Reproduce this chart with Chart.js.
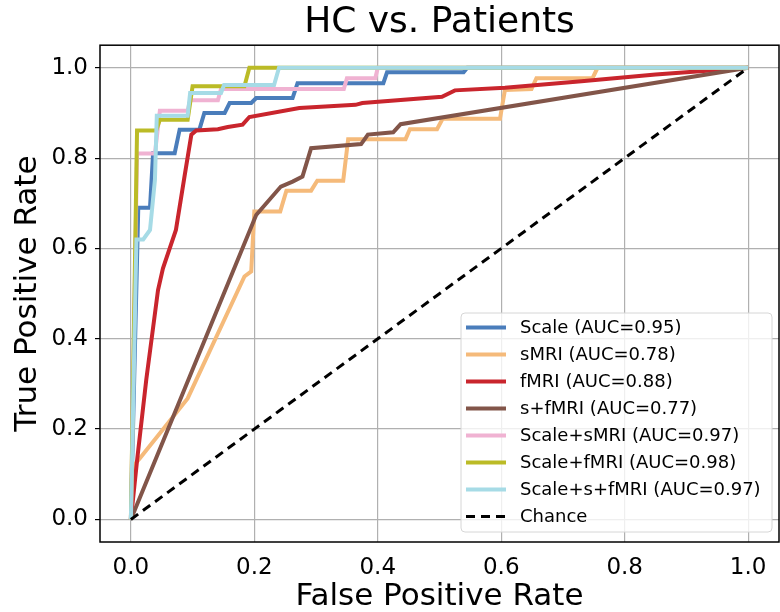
<!DOCTYPE html>
<html>
<head>
<meta charset="utf-8">
<script src="https://cdn.jsdelivr.net/npm/chart.js@4.4.1/dist/chart.umd.min.js"></script>
<style>
html, body { margin: 0; padding: 0; background: #fff; }
#roc { display: block; }
</style>
</head>
<body>
<canvas id="roc" width="780" height="612"></canvas>
<script>
// data ////////////////////////////////////////////////////////////
var tickValues = [0, 0.2, 0.4, 0.6, 0.8, 1.0];

var fprScale = [0, 0.012, 0.031, 0.036, 0.071, 0.079, 0.111, 0.119, 0.152, 0.160, 0.195, 0.203, 0.262, 0.270, 0.409, 0.415, 0.539, 0.545, 1.0];
var tprScale = [0, 0.69, 0.69, 0.811, 0.811, 0.863, 0.863, 0.9, 0.9, 0.922, 0.922, 0.933, 0.933, 0.966, 0.966, 0.99, 0.99, 1.0, 1.0];

var fprSmri = [0, 0.005, 0.015, 0.092, 0.184, 0.195, 0.2, 0.242, 0.252, 0.292, 0.302, 0.344, 0.352, 0.445, 0.452, 0.496, 0.505, 0.598, 0.606, 0.649, 0.657, 0.748, 0.756, 1.0];
var tprSmri = [0, 0.12, 0.136, 0.268, 0.538, 0.549, 0.682, 0.682, 0.728, 0.728, 0.75, 0.75, 0.842, 0.842, 0.864, 0.864, 0.887, 0.887, 0.951, 0.953, 0.977, 0.977, 1.0, 1.0];

var fprFmri = [0, 0.01, 0.025, 0.044, 0.052, 0.073, 0.087, 0.098, 0.106, 0.141, 0.157, 0.181, 0.192, 0.273, 0.364, 0.375, 0.504, 0.525, 0.606, 0.73, 0.85, 1.0];
var tprFmri = [0, 0.13, 0.31, 0.508, 0.556, 0.641, 0.76, 0.852, 0.861, 0.864, 0.869, 0.874, 0.891, 0.911, 0.918, 0.922, 0.936, 0.95, 0.956, 0.97, 0.985, 1.0];

var fprSFmri = [0, 0.203, 0.243, 0.262, 0.278, 0.292, 0.373, 0.384, 0.425, 0.437, 1.0];
var tprSFmri = [0, 0.674, 0.737, 0.748, 0.759, 0.822, 0.831, 0.852, 0.857, 0.875, 1.0];

var fprScaleSmri = [0, 0.01, 0.039, 0.047, 0.092, 0.096, 0.141, 0.146, 0.345, 0.35, 0.396, 0.4, 1.0];
var tprScaleSmri = [0, 0.81, 0.81, 0.905, 0.905, 0.928, 0.928, 0.953, 0.953, 0.977, 0.977, 1.0, 1.0];

var fprScaleFmri = [0, 0.01, 0.041, 0.047, 0.092, 0.1, 0.184, 0.192, 1.0];
var tprScaleFmri = [0, 0.861, 0.861, 0.885, 0.885, 0.959, 0.959, 1.0, 1.0];

var fprScaleSFmri = [0, 0.009, 0.02, 0.031, 0.039, 0.042, 0.092, 0.096, 0.146, 0.151, 0.232, 0.24, 1.0];
var tprScaleSFmri = [0, 0.62, 0.62, 0.641, 0.752, 0.894, 0.894, 0.944, 0.944, 0.962, 0.962, 1.0, 1.0];

var fprChance = [0, 1];
var tprChance = [0, 1];

var seriesNames = ['Scale (AUC=0.95)', 'sMRI (AUC=0.78)', 'fMRI (AUC=0.88)', 's+fMRI (AUC=0.77)',
	'Scale+sMRI (AUC=0.97)', 'Scale+fMRI (AUC=0.98)', 'Scale+s+fMRI (AUC=0.97)', 'Chance'];
var seriesFpr = [fprScale, fprSmri, fprFmri, fprSFmri, fprScaleSmri, fprScaleFmri, fprScaleSFmri, fprChance];
var seriesTpr = [tprScale, tprSmri, tprFmri, tprSFmri, tprScaleSmri, tprScaleFmri, tprScaleSFmri, tprChance];
var seriesColors = ['#4a7dbb', '#f5ba7a', '#c9252d', '#825549', '#f0b2d2', '#bbbb26', '#a6dbe6', '#000000'];
//end data/////////////////////////////////////////////////////////////////////////////////

var fontFamily = 'DejaVu Sans';

function toPoints(xs, ys) {
	var pts = [];
	for (var i = 0; i < xs.length; i++) {
		pts.push({ x: xs[i], y: ys[i] });
	}
	return pts;
}

var rocSets = seriesNames.map(function (name, i) {
	var isChance = name === 'Chance';
	return {
		label: name,
		data: toPoints(seriesFpr[i], seriesTpr[i]),
		borderColor: seriesColors[i],
		backgroundColor: seriesColors[i],
		borderWidth: isChance ? 3 : 4,
		borderDash: isChance ? [9, 6] : [],
		pointRadius: 0,
		tension: 0,
		fill: false,
		order: seriesNames.length - i // later series on top, like matplotlib
	};
});

// spines + legend box inside the axes //////////////////////////////////////////////////////
var axesExtras = {
	id: 'axesExtras',
	afterDatasetsDraw: function (chart) {
		var ctx = chart.ctx, a = chart.chartArea;
		ctx.save();
		ctx.strokeStyle = '#000';
		ctx.lineWidth = 1.5;
		ctx.strokeRect(a.left, a.top, a.right - a.left, a.bottom - a.top);
		ctx.restore();
	},
	afterDraw: function (chart) {
		var ctx = chart.ctx, a = chart.chartArea;
		var w = 311, h = 219;
		var bx = a.right - 7 - w, by = a.bottom - 10 - h;
		ctx.save();
		ctx.beginPath();
		ctx.roundRect(bx, by, w, h, 4);
		ctx.fillStyle = 'rgba(255,255,255,0.8)';
		ctx.fill();
		ctx.strokeStyle = '#d6d6d6';
		ctx.lineWidth = 1;
		ctx.stroke();
		ctx.font = '18px "' + fontFamily + '"';
		ctx.textBaseline = 'middle';
		chart.data.datasets.forEach(function (ds, i) {
			var cy = by + 14.5 + i * 27;
			ctx.beginPath();
			ctx.setLineDash(ds.borderDash);
			ctx.strokeStyle = ds.borderColor;
			ctx.lineWidth = ds.borderWidth;
			ctx.moveTo(bx + 5, cy);
			ctx.lineTo(bx + 45, cy);
			ctx.stroke();
			ctx.setLineDash([]);
			ctx.fillStyle = '#000';
			ctx.fillText(ds.label, bx + 59, cy + 1);
		});
		ctx.restore();
	}
};

function fixedTicks(scale) {
	scale.ticks = tickValues.map(function (v) { return { value: v }; });
}

var rocCtx = document.getElementById('roc').getContext('2d');
var rocChart = new Chart(rocCtx, {
	type: 'line',
	data: { datasets: rocSets },
	options: {
		responsive: false,
		animation: false,
		devicePixelRatio: 1,
		layout: { padding: { left: 0, right: 1, top: 0, bottom: 0 } },
		plugins: {
			legend: { display: false },
			tooltip: { enabled: false },
			title: {
				display: true,
				text: 'HC vs. Patients',
				fullSize: false,
				color: '#000',
				font: { family: fontFamily, size: 36, weight: 'normal' },
				padding: { top: 1, bottom: 1 }
			}
		},
		scales: {
			x: {
				type: 'linear',
				min: -0.05,
				max: 1.05,
				afterBuildTicks: fixedTicks,
				afterFit: function (s) { s.height = 70; },
				border: { display: false },
				grid: { color: '#b0b0b0', lineWidth: 1.2, drawTicks: false },
				ticks: {
					color: '#000',
					padding: 12,
					maxRotation: 0,
					font: { family: fontFamily, size: 23 },
					callback: function (v) { return v.toFixed(1); }
				},
				title: {
					display: true,
					text: 'False Positive Rate',
					color: '#000',
					font: { family: fontFamily, size: 31, lineHeight: 1.0 },
					padding: { top: 0, bottom: 0 }
				}
			},
			y: {
				type: 'linear',
				min: -0.05,
				max: 1.05,
				afterBuildTicks: fixedTicks,
				afterFit: function (s) { s.width = 100; },
				border: { display: false },
				grid: { color: '#b0b0b0', lineWidth: 1.2, tickLength: 5, tickColor: '#000', tickWidth: 1.2 },
				ticks: {
					color: '#000',
					padding: 7,
					font: { family: fontFamily, size: 23 },
					callback: function (v) { return v.toFixed(1); }
				},
				title: {
					display: true,
					text: 'True Positive Rate',
					color: '#000',
					font: { family: fontFamily, size: 31 },
					padding: { top: 9, bottom: 0 }
				}
			}
		}
	},
	plugins: [axesExtras]
});
</script>
</body>
</html>
